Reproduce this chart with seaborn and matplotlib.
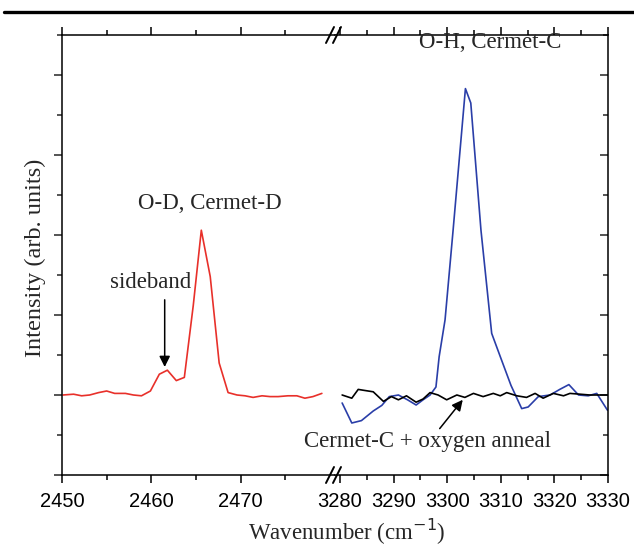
import matplotlib
matplotlib.use("Agg")
import matplotlib.pyplot as plt
from matplotlib.lines import Line2D
from matplotlib.ticker import MultipleLocator, FixedLocator
import numpy as np
import pandas as pd
import seaborn as sns

# O-D band, Cermet-D (left panel)
od_wavenumber = [2450.1, 2451.3, 2452.2, 2453.1, 2454.1, 2455.0, 2455.9, 2457.1,
                 2458.0, 2458.9, 2459.9, 2460.9, 2461.8, 2462.8, 2463.7, 2464.7,
                 2465.6, 2466.6, 2467.6, 2468.6, 2469.6, 2470.5, 2471.4, 2472.4,
                 2473.3, 2474.2, 2475.3, 2476.3, 2477.2, 2478.1, 2479.1]
od_intensity = [0.00, 0.01, -0.01, 0.00, 0.03, 0.05, 0.02, 0.02,
                0.00, -0.01, 0.05, 0.26, 0.31, 0.18, 0.22, 1.12,
                2.06, 1.48, 0.40, 0.03, 0.00, -0.01, -0.03, -0.01,
                -0.02, -0.02, -0.01, -0.01, -0.04, -0.02, 0.02]

# O-H band, Cermet-C (right panel, blue)
oh_wavenumber = [3280.4, 3282.2, 3284.0, 3286.2, 3287.8, 3289.2, 3290.9, 3292.6,
                 3294.2, 3295.5, 3296.8, 3297.9, 3298.5, 3299.6, 3301.1, 3303.4,
                 3304.4, 3306.3, 3308.3, 3309.9, 3311.9, 3313.9, 3315.1, 3317.0,
                 3319.2, 3321.0, 3322.7, 3324.5, 3326.3, 3327.9, 3329.9]
oh_intensity = [-0.10, -0.35, -0.32, -0.20, -0.13, -0.02, 0.00, -0.06,
                -0.125, -0.06, 0.00, 0.10, 0.48, 0.94, 2.06, 3.83,
                3.65, 2.06, 0.77, 0.48, 0.12, -0.17, -0.15, -0.02,
                0.00, 0.07, 0.13, 0.00, -0.01, 0.02, -0.19]

# Cermet-C after oxygen anneal (right panel, black)
anneal_wavenumber = [3280.4, 3282.2, 3283.4, 3284.3, 3286.2, 3288.1, 3289.6, 3290.9,
                     3292.4, 3294.2, 3295.5, 3296.8, 3298.3, 3299.9, 3301.8, 3303.3,
                     3304.9, 3306.7, 3308.6, 3309.9, 3311.1, 3313.0, 3314.8, 3316.4,
                     3317.9, 3319.8, 3321.7, 3322.9, 3324.8, 3326.6, 3328.2, 3329.9]
anneal_intensity = [0.00, -0.04, 0.07, 0.06, 0.04, -0.08, -0.02, -0.06,
                    -0.01, -0.09, -0.05, 0.03, 0.00, -0.06, 0.00, -0.03,
                    0.02, -0.02, 0.02, -0.01, 0.03, -0.01, -0.03, 0.02,
                    -0.04, 0.02, -0.01, 0.02, 0.01, 0.00, 0.00, 0.00]

left_ticks = [2450, 2460, 2470]
right_ticks = [3280, 3290, 3300, 3310, 3320, 3330]

sns.set_theme(style="ticks")
plt.rcParams["font.family"] = ["Liberation Sans", "DejaVu Sans"]
serif = ["Liberation Serif", "DejaVu Serif"]

fig = plt.figure(figsize=(6.34, 5.5), dpi=100)
ax_l = fig.add_axes([62 / 634, 1 - 475 / 550, 273 / 634, 440 / 550])
ax_r = fig.add_axes([335 / 634, 1 - 475 / 550, 273 / 634, 440 / 550])

sns.lineplot(x=od_wavenumber, y=od_intensity, ax=ax_l, color="#e8302a",
             lw=1.2, sort=False, estimator=None)
sns.lineplot(x=oh_wavenumber, y=oh_intensity, ax=ax_r, color="#2a3ea8",
             lw=1.2, sort=False, estimator=None)
sns.lineplot(x=anneal_wavenumber, y=anneal_intensity, ax=ax_r, color="black",
             lw=1.2, sort=False, estimator=None)

ax_l.set_xlim(2450, 2450 + 273 / 8.93)
ax_r.set_xlim(3330 - 273 / 5.36, 3330)
for ax in (ax_l, ax_r):
    ax.set_ylim(-1, 4.5)
    ax.yaxis.set_major_locator(MultipleLocator(1))
    ax.yaxis.set_minor_locator(MultipleLocator(0.5))
    ax.tick_params(axis="x", which="both", direction="out", top=True, bottom=True,
                   labelsize=14.5, width=1.1, color="black", labelcolor="black", pad=6)
    ax.tick_params(axis="x", which="major", length=6)
    ax.tick_params(axis="x", which="minor", length=3.5)
    for s in ax.spines.values():
        s.set_linewidth(1.1)
        s.set_color("black")
    ax.set_xlabel("")
    ax.set_ylabel("")

ax_l.xaxis.set_major_locator(FixedLocator(left_ticks))
ax_l.xaxis.set_minor_locator(FixedLocator([2455, 2465, 2475]))
ax_r.xaxis.set_major_locator(FixedLocator(right_ticks))
ax_r.xaxis.set_minor_locator(FixedLocator([3285, 3295, 3305, 3315, 3325]))

ax_l.spines["right"].set_visible(False)
ax_r.spines["left"].set_visible(False)
ax_l.tick_params(axis="y", which="both", direction="out", left=True, right=False,
                 labelleft=False, width=1.1)
ax_l.tick_params(axis="y", which="major", length=6)
ax_l.tick_params(axis="y", which="minor", length=3.5)
ax_r.tick_params(axis="y", which="both", direction="in", left=False, right=True,
                 labelleft=False, labelright=False, width=1.1)
ax_r.tick_params(axis="y", which="major", length=6)
ax_r.tick_params(axis="y", which="minor", length=3.5)

# labels and annotations
fig.text(347 / 634, 1 - 532 / 550, "Wavenumber (cm$^{-1}$)", ha="center", va="center",
         fontsize=16.5, family=serif)
fig.text(35 / 634, 1 - 258 / 550, "Intensity (arb. units)", ha="center", va="center",
         rotation=90, fontsize=17.5, family=serif)

ax_l.text(2466.6, 2.39, "O-D, Cermet-D", ha="center", va="center", fontsize=16.5,
          family=serif)
ax_r.text(3308, 4.41, "O-H, Cermet-C", ha="center", va="center", fontsize=16.5,
          family=serif)
ax_l.text(2459.9, 1.41, "sideband", ha="center", va="center", fontsize=16.5,
          family=serif)
ax_l.annotate("", xy=(2461.5, 0.35), xytext=(2461.5, 1.19),
              arrowprops=dict(arrowstyle="-|>", color="black", lw=1.1,
                              mutation_scale=16, shrinkA=0, shrinkB=0))
ax_r.text(3296.4, -0.575, "Cermet-C + oxygen anneal", ha="center", va="center",
          fontsize=16.5, family=serif, clip_on=False)
ax_r.annotate("", xy=(3302.9, -0.06), xytext=(3298.6, -0.42),
              arrowprops=dict(arrowstyle="-|>", color="black", lw=1.1,
                              mutation_scale=16, shrinkA=0, shrinkB=0))

# axis-break marks and the rule above the plot
for y0 in (35, 475):
    for dx in (0, 7):
        fig.add_artist(Line2D([(326 + dx) / 634, (334 + dx) / 634],
                              [1 - (y0 + 8) / 550, 1 - (y0 - 8) / 550],
                              color="black", lw=1.4))
fig.add_artist(Line2D([4 / 634, 1.0], [1 - 12 / 550, 1 - 12 / 550],
                      color="black", lw=2.4))

fig.savefig("out.png", dpi=100)
